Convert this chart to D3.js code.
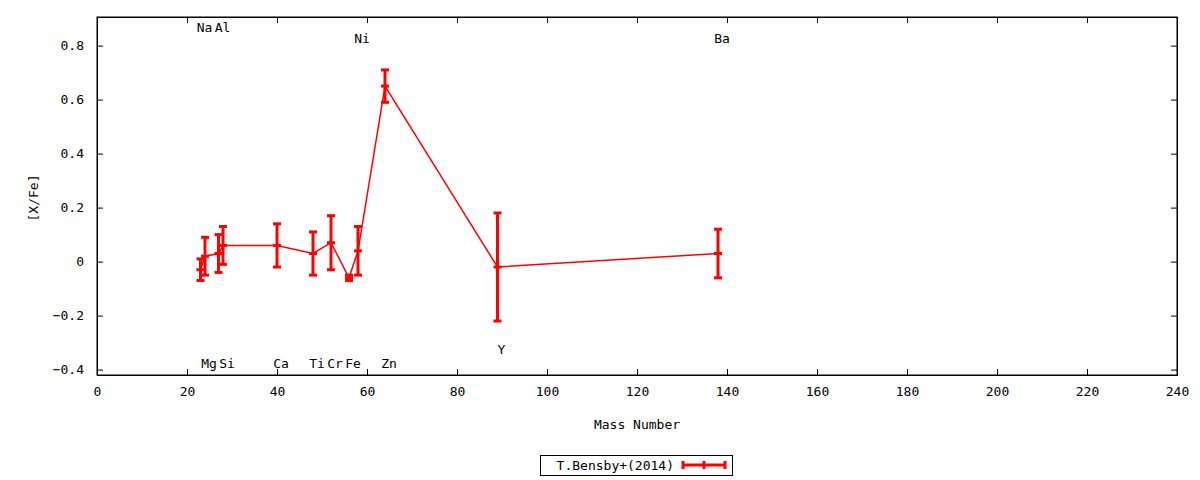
<!DOCTYPE html>
<html>
<head>
<meta charset="utf-8">
<script src="https://cdn.jsdelivr.net/npm/d3@7"></script>
<style>
  body { margin: 0; background: #fff; }
  text { font-family: "DejaVu Sans Mono", monospace; font-size: 13px; fill: #000; }
</style>
</head>
<body>
<svg id="chart" width="1200" height="480"></svg>
<script>

const elements = ['Na', 'Mg', 'Al', 'Si', 'Ca', 'Ti', 'Cr', 'Fe', 'Ni', 'Zn', 'Y', 'Ba'];
const massNumbers = [23, 24, 27, 28, 40, 48, 52, 56, 58, 64, 89, 138];
const abundances = [-0.03, 0.02, 0.03, 0.06, 0.06, 0.03, 0.07, -0.06, 0.04, 0.65, -0.02, 0.03];
const errors = [0.04, 0.07, 0.07, 0.07, 0.08, 0.08, 0.10, 0.01, 0.09, 0.06, 0.20, 0.09];
const labelY = [0.868, -0.376, 0.868, -0.376, -0.376, -0.376, -0.376, -0.376, 0.828, -0.376, -0.324, 0.828];

const xTicks = [0, 20, 40, 60, 80, 100, 120, 140, 160, 180, 200, 220, 240];
const yTicks = [-0.4, -0.2, 0, 0.2, 0.4, 0.6, 0.8];
const seriesName = 'T.Bensby+(2014)';

main();

function main() {
    let svg = d3.select('#chart');
    let left = 97, right = 1177, top = 17, bottom = 375;

    let x = d3.scaleLinear().domain([0, 240]).range([left, right]);
    let y = d3.scaleLinear().domain([-0.42, 0.906]).range([bottom, top]);

    const fmt = (d) => d === 0 ? '0' : d3.format('.1f')(d);

    // axes, gnuplot style: ticks inside, mirrored
    svg.append('g').attr('transform', `translate(0,${bottom})`)
        .call(d3.axisBottom(x).tickValues(xTicks).tickSize(-6).tickPadding(12).tickFormat(d3.format('d')));
    svg.append('g').attr('transform', `translate(0,${top})`)
        .call(d3.axisTop(x).tickValues(xTicks).tickSize(-6).tickFormat(''));
    svg.append('g').attr('transform', `translate(${left},0)`)
        .call(d3.axisLeft(y).tickValues(yTicks).tickSize(-6).tickPadding(13).tickFormat(fmt));
    svg.append('g').attr('transform', `translate(${right},0)`)
        .call(d3.axisRight(y).tickValues(yTicks).tickSize(-6).tickFormat(''));

    svg.selectAll('.domain').attr('stroke', '#000').attr('stroke-width', 1);
    svg.selectAll('.tick line').attr('stroke', '#000');
    svg.selectAll('.tick text').style('font-family', '"DejaVu Sans Mono", monospace').style('font-size', '13px');

    svg.append('rect')
        .attr('x', left).attr('y', top)
        .attr('width', right - left).attr('height', bottom - top)
        .attr('fill', 'none').attr('stroke', '#000');

    svg.append('text')
        .attr('transform', `translate(33,${(top + bottom) / 2 + 2}) rotate(-90)`)
        .attr('text-anchor', 'middle').attr('dy', '0.35em')
        .text('[X/Fe]');
    svg.append('text')
        .attr('x', (left + right) / 2).attr('y', 424)
        .attr('text-anchor', 'middle').attr('dy', '0.35em')
        .text('Mass Number');

    let idx = d3.range(elements.length);
    let red = '#ff0000';

    svg.append('path')
        .datum(idx)
        .attr('fill', 'none')
        .attr('stroke', red)
        .attr('stroke-width', 1.5)
        .attr('d', d3.line().x((i) => x(massNumbers[i])).y((i) => y(abundances[i])));

    let bars = svg.append('g').selectAll('g').data(idx).enter().append('g');
    bars.append('line')
        .attr('x1', (i) => x(massNumbers[i])).attr('x2', (i) => x(massNumbers[i]))
        .attr('y1', (i) => y(abundances[i] - errors[i])).attr('y2', (i) => y(abundances[i] + errors[i]))
        .attr('stroke', red).attr('stroke-width', 3);
    [-1, 0, 1].forEach((k) => {
        bars.append('line')
            .attr('x1', (i) => x(massNumbers[i]) - 4).attr('x2', (i) => x(massNumbers[i]) + 4)
            .attr('y1', (i) => y(abundances[i] + k * errors[i])).attr('y2', (i) => y(abundances[i] + k * errors[i]))
            .attr('stroke', red).attr('stroke-width', 3);
    });

    svg.append('g').selectAll('text').data(idx).enter().append('text')
        .attr('x', (i) => x(massNumbers[i]) + 4)
        .attr('y', (i) => y(labelY[i]))
        .attr('text-anchor', 'middle').attr('dy', '0.35em')
        .text((i) => elements[i]);

    // legend
    let legend = svg.append('g');
    legend.append('rect')
        .attr('x', 540.5).attr('y', 455.5).attr('width', 192).attr('height', 20)
        .attr('fill', 'none').attr('stroke', '#000');
    legend.append('text')
        .attr('x', 674).attr('y', 465.5).attr('dy', '0.35em')
        .attr('text-anchor', 'end').text(seriesName);
    legend.append('line')
        .attr('x1', 683).attr('x2', 725).attr('y1', 465).attr('y2', 465)
        .attr('stroke', red).attr('stroke-width', 3);
    [683, 704, 725].forEach((px) => {
        legend.append('line')
            .attr('x1', px).attr('x2', px).attr('y1', 461).attr('y2', 469)
            .attr('stroke', red).attr('stroke-width', 3);
    });
}
</script>
</body>
</html>
